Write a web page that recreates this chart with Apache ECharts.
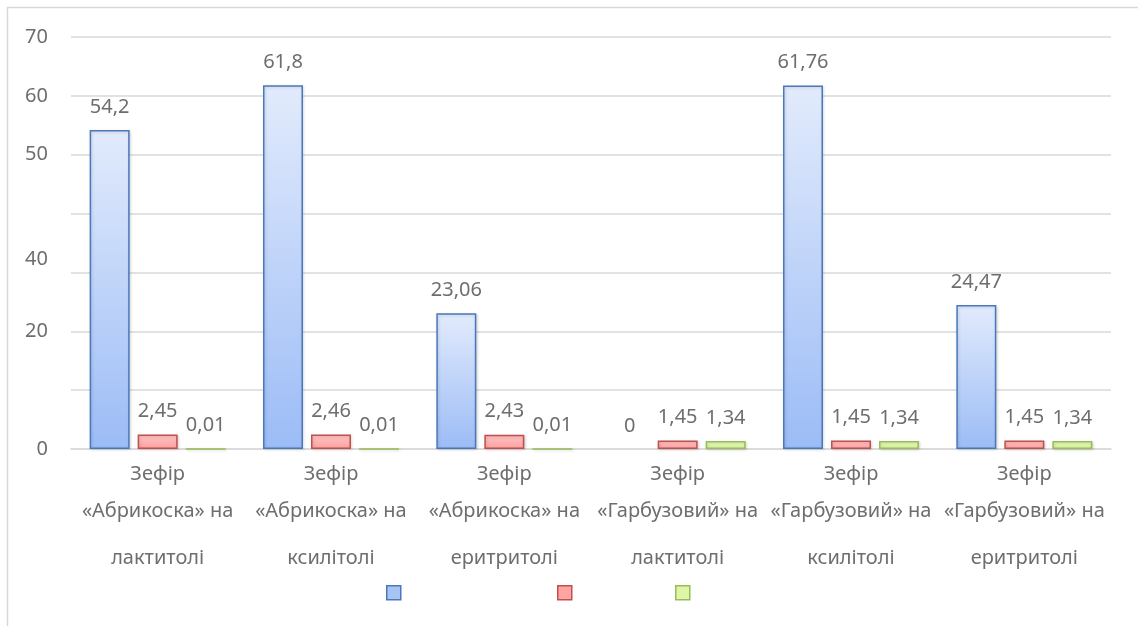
<!DOCTYPE html>
<html>
<head>
<meta charset="utf-8">
<script src="https://cdn.jsdelivr.net/npm/echarts@6/dist/echarts.min.js"></script>
<style>
  html, body { margin: 0; padding: 0; background: #fff; }
  #chart { width: 1138px; height: 626px; }
</style>
</head>
<body>
<div id="chart"></div>
<script>
// categories (three-line labels)
var categories = [
  ['Зефір', '«Абрикоска» на', 'лактитолі'],
  ['Зефір', '«Абрикоска» на', 'ксилітолі'],
  ['Зефір', '«Абрикоска» на', 'еритритолі'],
  ['Зефір', '«Гарбузовий» на', 'лактитолі'],
  ['Зефір', '«Гарбузовий» на', 'ксилітолі'],
  ['Зефір', '«Гарбузовий» на', 'еритритолі']
];
var seriesBlue  = [54.2, 61.8, 23.06, 0, 61.76, 24.47];
var seriesRed   = [2.45, 2.46, 2.43, 1.45, 1.45, 1.45];
var seriesGreen = [0.01, 0.01, 0.01, 1.34, 1.34, 1.34];
// y tick labels as drawn in the picture (10 and 30 blank, "40" sits at 30)
var yTickLabels = { 0: '0', 10: '', 20: '20', 30: '{up|40}', 40: '', 50: '50', 60: '60', 70: '70' };

var textColor = '#6e6e6e';
var fontFam = '"Noto Sans", sans-serif';
var fs = 20;

function comma(p) {
  return String(p.value).replace('.', ',');
}

function grad(top, bottom) {
  return new echarts.graphic.LinearGradient(0, 0, 0, 1, [
    { offset: 0, color: top },
    { offset: 1, color: bottom }
  ]);
}

// zero values get no visible bar outline
function toData(arr) {
  return arr.map(function (v) {
    return v === 0 ? { value: v, itemStyle: { borderWidth: 0, shadowBlur: 0, shadowOffsetX: 0, shadowOffsetY: 0 } } : v;
  });
}

var barLabel = {
  show: true,
  position: 'top',
  distance: 13,
  color: textColor,
  fontSize: fs,
  fontFamily: fontFam,
  formatter: comma
};

var shadow = { shadowColor: 'rgba(0,0,0,0.15)', shadowBlur: 3, shadowOffsetX: 1, shadowOffsetY: 1 };

function legendItem(left, name, color, border) {
  return {
    left: left, top: 585, padding: 0, itemWidth: 14, itemHeight: 14,
    formatter: function () { return ''; },
    data: [{ name: name, icon: 'rect', itemStyle: { color: color, borderColor: border, borderWidth: 1.5 } }]
  };
}

var chart = echarts.init(document.getElementById('chart'));
chart.setOption({
  animation: false,
  textStyle: { fontFamily: fontFam },
  graphic: [{
    type: 'rect',
    shape: { x: 7.5, y: 7.5, width: 1300, height: 800 },
    style: { fill: 'none', stroke: '#d9d9d9', lineWidth: 1.5 },
    silent: true
  }],
  legend: [
    legendItem(386, 'a', '#a8c4f6', '#4a78bd'),
    legendItem(557, 'b', '#ffa3a3', '#c0504d'),
    legendItem(675, 'c', '#ddf7a6', '#9bbb59')
  ],
  grid: { left: 71, right: 27, top: 37, bottom: 177 },
  xAxis: {
    type: 'category',
    data: categories.map(function (c) { return c.join('\n'); }),
    axisLine: { lineStyle: { color: '#d9d9d9', width: 1.5 } },
    axisTick: { show: false },
    axisLabel: {
      interval: 0,
      margin: 7,
      color: textColor,
      fontSize: fs,
      formatter: function (v) {
        var l = v.split('\n');
        return '{a|' + l[0] + '}\n{a|' + l[1] + '}\n{b|' + l[2] + '}';
      },
      rich: {
        a: { fontSize: fs, lineHeight: 37, color: textColor, fontFamily: fontFam },
        b: { fontSize: fs, lineHeight: 57, color: textColor, fontFamily: fontFam }
      }
    }
  },
  yAxis: {
    type: 'value',
    min: 0,
    max: 70,
    interval: 10,
    axisLine: { show: false },
    axisTick: { show: false },
    splitLine: { lineStyle: { color: '#d9d9d9', width: 1.5 } },
    axisLabel: {
      margin: 23,
      color: textColor,
      fontSize: fs,
      formatter: function (v) { return yTickLabels[v]; },
      rich: {
        up: { fontSize: fs, color: textColor, fontFamily: fontFam, padding: [0, 0, 26, 0] }
      }
    }
  },
  series: [
    {
      name: 'a', type: 'bar', data: toData(seriesBlue),
      barWidth: 40, barGap: '20%',
      itemStyle: Object.assign({ color: grad('#e2ebfc', '#9cbcf6'), borderColor: '#4a78bd', borderWidth: 1.5 }, shadow),
      label: barLabel
    },
    {
      name: 'b', type: 'bar', data: toData(seriesRed),
      barWidth: 40, barGap: '20%',
      itemStyle: Object.assign({ color: grad('#ffc4c4', '#ffa0a0'), borderColor: '#c0504d', borderWidth: 1.5 }, shadow),
      label: barLabel
    },
    {
      name: 'c', type: 'bar', data: toData(seriesGreen),
      barWidth: 40, barGap: '20%',
      itemStyle: Object.assign({ color: grad('#e6fac0', '#d6f59a'), borderColor: '#9bbb59', borderWidth: 1.5 }, shadow),
      label: barLabel
    }
  ]
});
</script>
</body>
</html>
